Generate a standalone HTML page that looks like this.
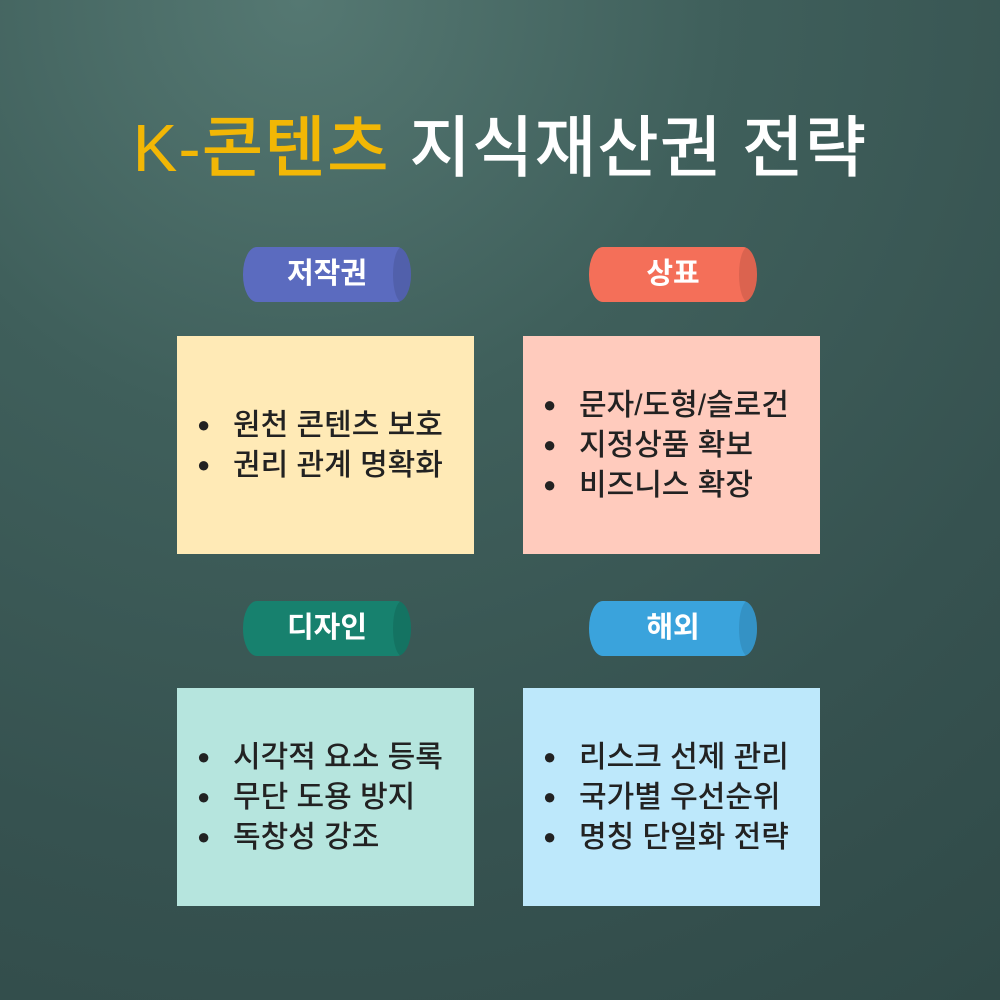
<!DOCTYPE html>
<html><head><meta charset="utf-8"><style>
body{margin:0;width:1000px;height:1000px;overflow:hidden;font-family:"Liberation Sans","Noto Sans CJK KR",sans-serif;
background:radial-gradient(circle at 30% 0%,#557872 0%,#3f5f5b 35%,#365250 70%,#304a48 100%);position:relative}
.t{position:absolute;top:94px;left:0;width:1000px;text-align:center;font-size:67px;color:#fff;font-weight:500;letter-spacing:1px}
.t span{color:#f2b705}
.pill{position:absolute;width:168px;height:55px;border-radius:14px/27px;color:#fff;font-size:29px;font-weight:bold;text-align:center;line-height:55px;overflow:hidden}
.pill::after{content:"";position:absolute;right:0;top:0;width:18px;height:55px;border-radius:9px/27px;background:rgba(0,0,0,.1)}
.box{position:absolute;width:297px;height:218px;box-sizing:border-box;padding-left:20px;display:flex;flex-direction:column;justify-content:center;font-size:30px;font-weight:500;color:#222;line-height:39px}
.box div::before{content:"●";font-size:22px;display:inline-block;width:36px;vertical-align:3px}
</style></head><body>
<div class="t"><span>K-콘텐츠</span> 지식재산권 전략</div>
<div class="pill" style="left:243px;top:247px;background:#5b6bbf">저작권</div>
<div class="pill" style="left:589px;top:247px;background:#f46f59">상표</div>
<div class="pill" style="left:243px;top:601px;background:#17816e">디자인</div>
<div class="pill" style="left:589px;top:601px;background:#3aa3dc">해외</div>
<div class="box" style="left:177px;top:336px;background:#ffeab6"><div>원천 콘텐츠 보호</div><div>권리 관계 명확화</div></div>
<div class="box" style="left:523px;top:336px;background:#ffcbbd"><div>문자/도형/슬로건</div><div>지정상품 확보</div><div>비즈니스 확장</div></div>
<div class="box" style="left:177px;top:688px;background:#b6e5de"><div>시각적 요소 등록</div><div>무단 도용 방지</div><div>독창성 강조</div></div>
<div class="box" style="left:523px;top:688px;background:#bde8fb"><div>리스크 선제 관리</div><div>국가별 우선순위</div><div>명칭 단일화 전략</div></div>
</body></html>
